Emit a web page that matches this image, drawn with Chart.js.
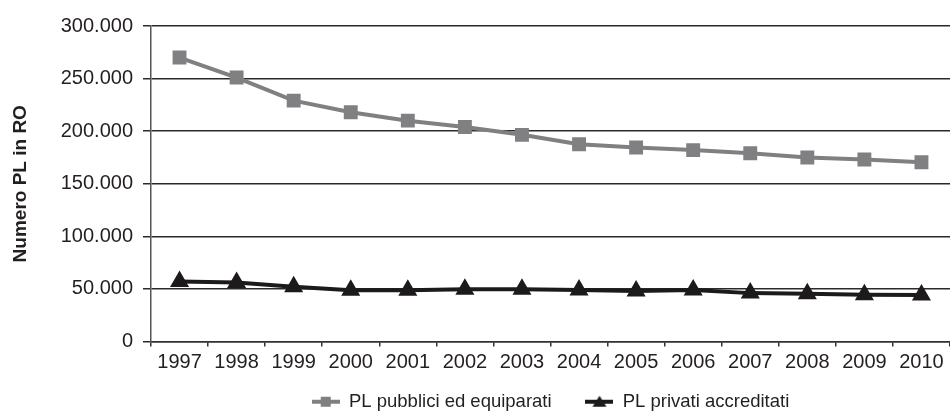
<!DOCTYPE html>
<html>
<head>
<meta charset="utf-8">
<script src="https://cdn.jsdelivr.net/npm/chart.js@4"></script>
<style>
  html, body { margin: 0; padding: 0; background: #fff; }
  #wrap { width: 950px; height: 414px; }
</style>
</head>
<body>
<div id="wrap"><canvas id="plChart" width="950" height="414"></canvas></div>
<script>
// data
const years = ["1997", "1998", "1999", "2000", "2001", "2002", "2003", "2004", "2005", "2006", "2007", "2008", "2009", "2010"];
const pubblici = [270000, 251000, 229000, 218000, 210000, 204000, 196500, 187500, 184500, 182000, 179000, 175000, 173000, 170500];
const privati = [57000, 56000, 52000, 48700, 48700, 49800, 49800, 48900, 48100, 48900, 46000, 45300, 44400, 44200];
const seriesNames = ["PL pubblici ed equiparati", "PL privati accreditati"];

const GREY = "#808083";
const DARK = "#1c1a1b";
const TEXT = "#231f20";
const FONT = "'Liberation Sans', Arial, sans-serif";

// legend swatch: short line with the marker on it
function swatch(color, shape) {
  const c = document.createElement("canvas");
  c.width = 28; c.height = 14;
  const g = c.getContext("2d");
  g.strokeStyle = color; g.fillStyle = color; g.lineWidth = 4;
  g.beginPath(); g.moveTo(0, 7); g.lineTo(28, 7); g.stroke();
  g.beginPath();
  if (shape === "rect") {
    g.rect(9, 2, 10, 10);
  } else {
    g.moveTo(14, 1); g.lineTo(21, 12); g.lineTo(7, 12); g.closePath();
  }
  g.fill();
  return c;
}
const swatches = [swatch(GREY, "rect"), swatch(DARK, "triangle")];

function fmt(v) {
  return String(v).replace(/\B(?=(\d{3})+(?!\d))/g, ".");
}

const ctx = document.getElementById("plChart").getContext("2d");
const plChart = new Chart(ctx, {
  type: "line",
  data: {
    labels: years,
    datasets: [
      {
        label: seriesNames[0],
        data: pubblici,
        borderColor: GREY,
        backgroundColor: GREY,
        borderWidth: 4,
        pointStyle: "rect",
        pointRadius: 7,
        pointHoverRadius: 7,
        tension: 0,
      },
      {
        label: seriesNames[1],
        data: privati,
        borderColor: DARK,
        backgroundColor: DARK,
        borderWidth: 4,
        pointStyle: "triangle",
        pointRadius: 7,
        pointHoverRadius: 7,
        tension: 0,
      },
    ],
  },
  options: {
    responsive: false,
    animation: false,
    layout: { autoPadding: false, padding: { top: 26, right: 0, left: 0, bottom: -7 } },
    plugins: {
      tooltip: { enabled: false },
      legend: {
        position: "bottom",
        fullSize: false,
        labels: {
          usePointStyle: true,
          pointStyleWidth: 28,
          padding: 3,
          color: TEXT,
          font: { family: FONT, size: 18.5 },
          // trailing spaces widen the gap between the two entries
          generateLabels: (chart) =>
            chart.data.datasets.map((ds, i) => ({
              text: i === 0 ? ds.label + "      " : ds.label,
              pointStyle: swatches[i],
              fontColor: TEXT,
              lineWidth: 0,
              strokeStyle: "transparent",
              fillStyle: "transparent",
              datasetIndex: i,
              hidden: false,
            })),
        },
      },
    },
    scales: {
      x: {
        offset: true,
        border: { color: "#333", width: 1.5 },
        grid: { offset: true, drawOnChartArea: false, drawTicks: true, tickLength: 5, color: "#333", lineWidth: 1.5 },
        ticks: {
          padding: 4,
          maxRotation: 0,
          autoSkip: false,
          color: TEXT,
          font: { family: FONT, size: 20 },
        },
        afterFit: (s) => { s.height = 48; s.paddingRight = 0; s.paddingLeft = 0; },
      },
      y: {
        min: 0,
        max: 300000,
        border: { color: "#555", width: 1.5 },
        grid: { color: "#2a2a2a", lineWidth: 1.5, tickLength: 8 },
        ticks: {
          stepSize: 50000,
          padding: 10,
          color: TEXT,
          font: { family: FONT, size: 20 },
          callback: (v) => fmt(v),
        },
        title: {
          display: true,
          text: "Numero PL in RO",
          color: TEXT,
          padding: { top: 9, bottom: 0 },
          font: { family: "'Liberation Sans Narrow', 'Liberation Sans', sans-serif", size: 19, weight: "bold" },
        },
        afterFit: (s) => { s.width = 151; },
      },
    },
  },
});
</script>
</body>
</html>
